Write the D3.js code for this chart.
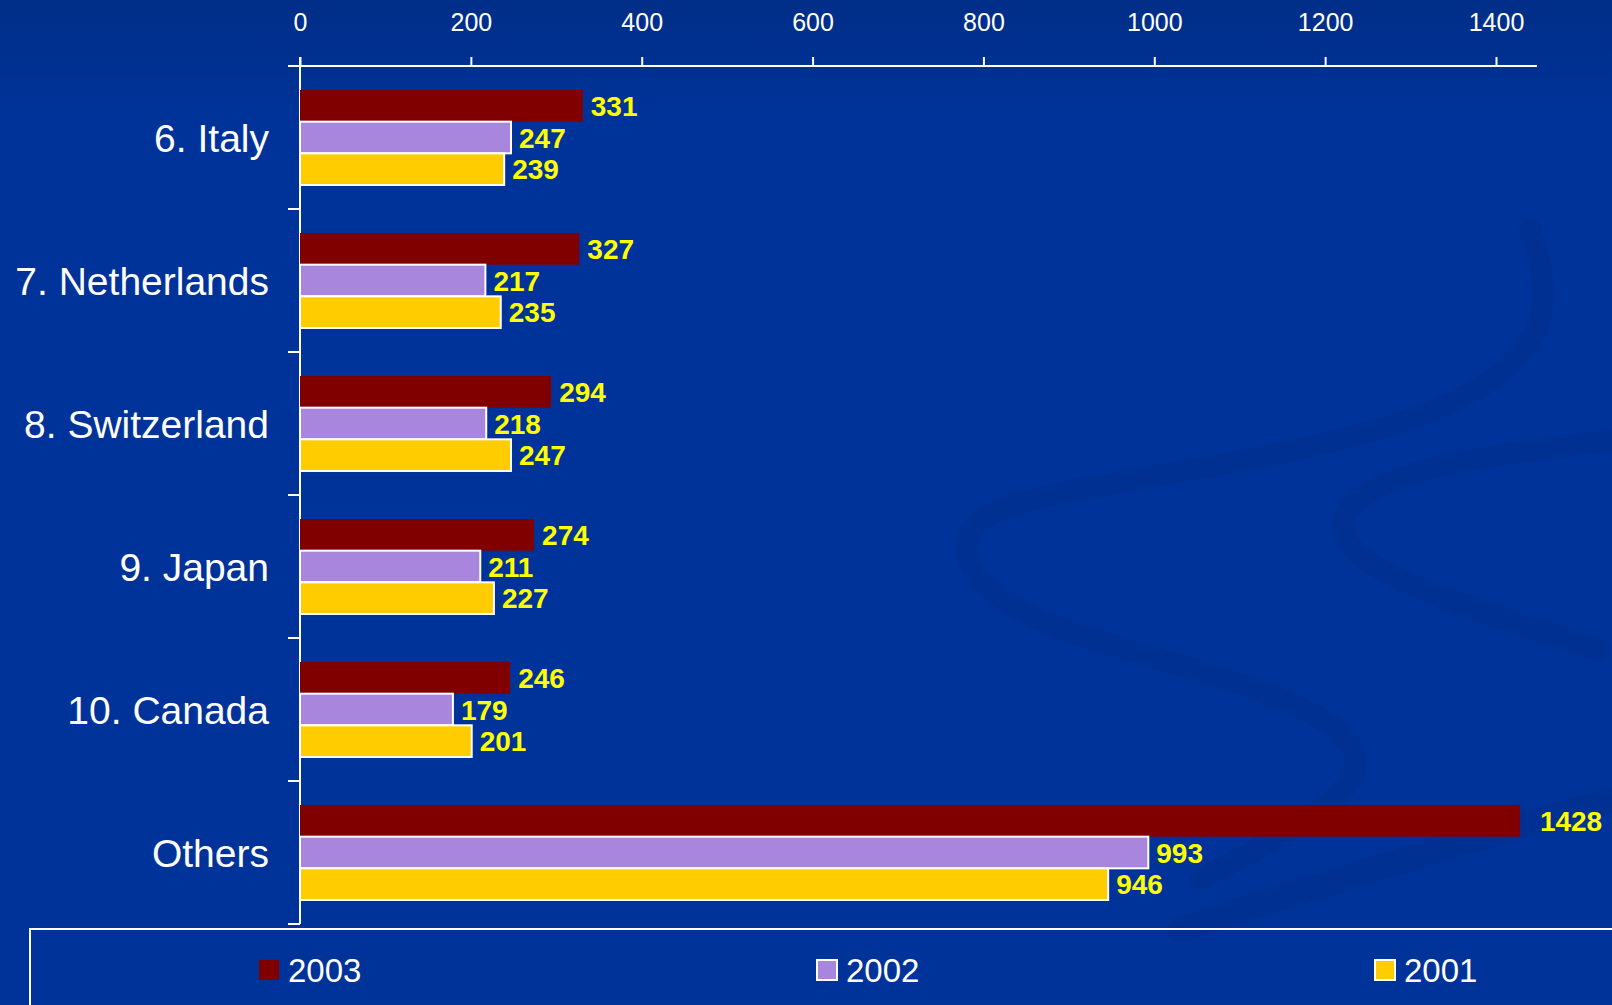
<!DOCTYPE html>
<html>
<head>
<meta charset="utf-8">
<script src="https://cdn.jsdelivr.net/npm/d3@7"></script>
<style>
  html, body { margin: 0; padding: 0; background: #003399; overflow: hidden; }
  text { font-family: "Liberation Sans", Arial, sans-serif; }
</style>
</head>
<body>
<div id="chart"></div>
<script>
// data
var categories = ["6. Italy", "7. Netherlands", "8. Switzerland", "9. Japan", "10. Canada", "Others"];
var years = ["2003", "2002", "2001"];
var values2003 = [331, 327, 294, 274, 246, 1428];
var values2002 = [247, 217, 218, 211, 179, 993];
var values2001 = [239, 235, 247, 227, 201, 946];
var xTicks = [0, 200, 400, 600, 800, 1000, 1200, 1400];

var colors = { "2003": "#800000", "2002": "#a886de", "2001": "#ffcc00" };

var svgWidth = 1612;
var svgHeight = 1005;

var margin = { top: 66, left: 300, bottom: 81 };
var plotBottom = svgHeight - margin.bottom;

var seriesByYear = { "2003": values2003, "2002": values2002, "2001": values2001 };
var rows = categories.map(function (c, i) {
    return { cat: c, vals: years.map(function (y) { return { year: y, value: seriesByYear[y][i] }; }) };
});

var svg = d3.select("#chart")
    .append("svg")
    .attr("width", svgWidth)
    .attr("height", svgHeight);

// background + decorative swirls
var defs = svg.append("defs");
var grad = defs.append("linearGradient").attr("id", "bg").attr("x1", 0).attr("y1", 0).attr("x2", 0).attr("y2", 1);
grad.append("stop").attr("offset", "0").attr("stop-color", "#002e88");
grad.append("stop").attr("offset", "0.12").attr("stop-color", "#003399");
grad.append("stop").attr("offset", "1").attr("stop-color", "#003399");
svg.append("rect").attr("width", svgWidth).attr("height", svgHeight).attr("fill", "url(#bg)");

var swirl = d3.line().curve(d3.curveBasis);
var swirls = [
    { pts: [[1530, 230], [1560, 330], [1450, 420], [1200, 470], [1000, 500], [950, 540], [1000, 620], [1250, 680], [1370, 740], [1350, 800], [1200, 880]], w: 22 },
    { pts: [[1612, 440], [1450, 460], [1360, 490], [1330, 530], [1380, 580], [1600, 650]], w: 22 },
    { pts: [[1180, 930], [1400, 860], [1612, 800]], w: 26 }
];
svg.append("g").selectAll("path")
    .data(swirls)
    .enter()
    .append("path")
    .attr("d", function (d) { return swirl(d.pts); })
    .attr("fill", "none")
    .attr("stroke", "#002c86")
    .attr("stroke-opacity", 0.3)
    .attr("stroke-width", function (d) { return d.w; })
    .attr("stroke-linecap", "round");

// scales
var xScale = d3.scaleLinear()
    .domain([0, 1400])
    .range([margin.left, 1496]);

var yScale = d3.scaleBand()
    .domain(categories)
    .range([margin.top, plotBottom])
    .paddingInner(0.336)
    .paddingOuter(0.168);

var ySub = d3.scaleBand()
    .domain(years)
    .range([0, yScale.bandwidth()]);

// top axis
var topAxis = d3.axisTop(xScale)
    .tickValues(xTicks)
    .tickFormat(d3.format("d"))
    .tickSize(9)
    .tickPadding(26)
    .tickSizeOuter(0);

var axisG = svg.append("g")
    .attr("transform", `translate(0, ${margin.top})`)
    .call(topAxis);
axisG.select(".domain").remove();
axisG.selectAll("line").attr("stroke", "#fff").attr("stroke-width", 2);
axisG.selectAll("text")
    .attr("fill", "#fff")
    .attr("font-size", 25);

svg.append("line")
    .attr("x1", margin.left - 12).attr("x2", 1537)
    .attr("y1", margin.top).attr("y2", margin.top)
    .attr("stroke", "#fff").attr("stroke-width", 2);

// left axis with boundary ticks
svg.append("line")
    .attr("x1", margin.left).attr("x2", margin.left)
    .attr("y1", margin.top - 9).attr("y2", plotBottom)
    .attr("stroke", "#fff").attr("stroke-width", 2);

var half = yScale.step() * yScale.paddingInner() / 2;
var boundaries = categories.map(function (c) { return yScale(c) + yScale.bandwidth() + half; });
svg.append("g").selectAll("line")
    .data(boundaries)
    .enter()
    .append("line")
    .attr("x1", margin.left - 12).attr("x2", margin.left)
    .attr("y1", d => d).attr("y2", d => d)
    .attr("stroke", "#fff").attr("stroke-width", 2);

// category labels
svg.append("g").selectAll("text")
    .data(categories)
    .enter()
    .append("text")
    .attr("x", 269)
    .attr("y", d => yScale(d) + yScale.bandwidth() / 2)
    .attr("dy", "0.36em")
    .attr("text-anchor", "end")
    .attr("fill", "#fff")
    .attr("font-size", 39)
    .text(d => d);

// bars
var groups = svg.append("g").selectAll("g")
    .data(rows)
    .enter()
    .append("g")
    .attr("transform", d => `translate(0, ${yScale(d.cat)})`);

groups.selectAll("rect")
    .data(d => d.vals)
    .enter()
    .append("rect")
    .attr("x", xScale(0))
    .attr("y", d => ySub(d.year))
    .attr("width", d => xScale(d.value) - xScale(0))
    .attr("height", ySub.bandwidth())
    .attr("fill", d => colors[d.year])
    .attr("stroke", d => d.year === "2003" ? "none" : "#fff")
    .attr("stroke-width", 2);

groups.selectAll("text")
    .data(d => d.vals)
    .enter()
    .append("text")
    .attr("x", d => xScale(d.value) + (d.value > 1400 ? 20 : 8))
    .attr("y", d => ySub(d.year) + ySub.bandwidth() / 2)
    .attr("dy", "0.36em")
    .attr("fill", "#ffff00")
    .attr("font-size", 28)
    .attr("font-weight", "bold")
    .text(d => d.value);

// legend
svg.append("rect")
    .attr("x", 30).attr("y", 929)
    .attr("width", 1600).attr("height", 120)
    .attr("fill", "none")
    .attr("stroke", "#fff")
    .attr("stroke-width", 2);

var legendX = { "2003": 259, "2002": 817, "2001": 1375 };
var legend = svg.append("g").selectAll("g")
    .data(years)
    .enter()
    .append("g")
    .attr("transform", d => `translate(${legendX[d]}, 970)`);

legend.append("rect")
    .attr("x", 0).attr("y", -10)
    .attr("width", 20).attr("height", 20)
    .attr("fill", d => colors[d])
    .attr("stroke", d => d === "2003" ? "none" : "#fff")
    .attr("stroke-width", 2);

legend.append("text")
    .attr("x", 29)
    .attr("y", 0)
    .attr("dy", "0.36em")
    .attr("fill", "#fff")
    .attr("font-size", 33)
    .text(d => d);
</script>
</body>
</html>
